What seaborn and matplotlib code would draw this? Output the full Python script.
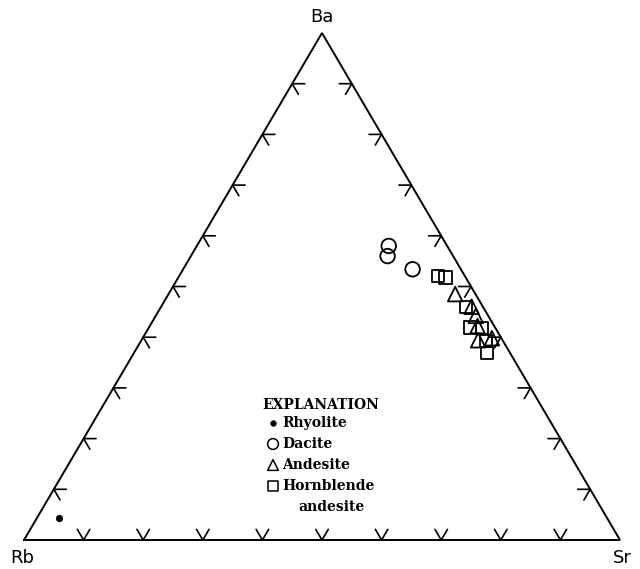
import numpy as np
import pandas as pd
import matplotlib
matplotlib.use("Agg")
import matplotlib.pyplot as plt
import seaborn as sns

# Ternary compositions (fractions of Rb, Sr, Ba) for each rock group
rhyolite_rb = [0.919]
rhyolite_sr = [0.038]
rhyolite_ba = [0.043]

dacite_rb = [0.098, 0.110, 0.081]
dacite_sr = [0.322, 0.330, 0.385]
dacite_ba = [0.580, 0.560, 0.534]

andesite_rb = [0.034, 0.019, 0.021, 0.041, 0.016, 0.028]
andesite_sr = [0.481, 0.521, 0.537, 0.565, 0.586, 0.550]
andesite_ba = [0.485, 0.460, 0.442, 0.394, 0.398, 0.422]

hbl_rb = [0.045, 0.034, 0.029, 0.042, 0.023, 0.028, 0.039]
hbl_sr = [0.434, 0.448, 0.512, 0.539, 0.559, 0.579, 0.592]
hbl_ba = [0.521, 0.518, 0.459, 0.419, 0.418, 0.393, 0.369]

vertex_labels = ["Rb", "Sr", "Ba"]
tick_fractions = [0.1, 0.2, 0.3, 0.4, 0.5, 0.6, 0.7, 0.8, 0.9]

SQ3 = np.sqrt(3) / 2


def to_xy(sr, ba):
    sr = np.asarray(sr, float)
    ba = np.asarray(ba, float)
    return sr + ba / 2, ba * SQ3


frames = []
for name, sr, ba in [("Rhyolite", rhyolite_sr, rhyolite_ba),
                     ("Dacite", dacite_sr, dacite_ba),
                     ("Andesite", andesite_sr, andesite_ba),
                     ("Hornblende andesite", hbl_sr, hbl_ba)]:
    x, y = to_xy(sr, ba)
    frames.append(pd.DataFrame({"rock": name, "x": x, "y": y}))
df = pd.concat(frames, ignore_index=True)

sns.set_theme(style="white")
W, H = 640, 569
fig = plt.figure(figsize=(W / 100, H / 100), dpi=100)
ax = fig.add_axes([0, 0, 1, 1])

# triangle placement on the canvas (pixels)
x0, x1, ybase, yapex = 24, 620, 540, 33
sx = (x1 - x0)
sy = (ybase - yapex) / SQ3
ax.set_xlim(-x0 / sx, (W - x0) / sx)
ax.set_ylim(-(H - ybase) / sy, ybase / sy)
ax.axis("off")

# frame
ax.plot([0, 1, 0.5, 0], [0, 0, SQ3, 0], color="black", lw=1.4,
        solid_joinstyle="miter", zorder=2)

# chevron ticks every 10 percent along each edge
L = 0.021
c60, s60 = 0.5, SQ3
for t in tick_fractions:
    # base
    bx, by = t, 0.0
    ax.plot([bx - L * c60, bx, bx + L * c60], [by + L * s60, by, by + L * s60],
            color="black", lw=1.2, zorder=2)
    # left edge
    lx, ly = t / 2, t * SQ3
    ax.plot([lx + L, lx, lx + L * c60], [ly, ly, ly - L * s60],
            color="black", lw=1.2, zorder=2)
    # right edge
    rx, ry = 1 - t / 2, t * SQ3
    ax.plot([rx - L, rx, rx - L * c60], [ry, ry, ry - L * s60],
            color="black", lw=1.2, zorder=2)

styles = {
    "Rhyolite": dict(marker="o", s=22, color="black", edgecolor="black", linewidth=0.5),
    "Dacite": dict(marker="o", s=110, facecolor="none", edgecolor="black", linewidth=1.3),
    "Andesite": dict(marker="^", s=110, facecolor="none", edgecolor="black", linewidth=1.3),
    "Hornblende andesite": dict(marker="s", s=80, facecolor="none", edgecolor="black", linewidth=1.3),
}
for name, kw in styles.items():
    sub = df[df["rock"] == name]
    sns.scatterplot(data=sub, x="x", y="y", ax=ax, legend=False, zorder=3, **kw)

# vertex labels
vfont = dict(family="DejaVu Sans", fontsize=13, color="black")
fig.text(22 / W, 1 - 558 / H, vertex_labels[0], ha="center", va="center", **vfont)
fig.text(622 / W, 1 - 558 / H, vertex_labels[1], ha="center", va="center", **vfont)
fig.text(322 / W, 1 - 17 / H, vertex_labels[2], ha="center", va="center", **vfont)

# explanation block
lfont = dict(family="DejaVu Serif", fontweight="bold", fontsize=10, color="black")
fig.text(262 / W, 1 - 405 / H, "EXPLANATION", ha="left", va="center", **lfont)
legend_rows = [("Rhyolite", 423), ("Dacite", 444), ("Andesite", 465), ("Hornblende", 486)]
legend_marks = {
    "Rhyolite": dict(marker="o", s=16, c="black", edgecolors="black", linewidths=0.5),
    "Dacite": dict(marker="o", s=60, facecolors="none", edgecolors="black", linewidths=1.1),
    "Andesite": dict(marker="^", s=60, facecolors="none", edgecolors="black", linewidths=1.1),
    "Hornblende": dict(marker="s", s=50, facecolors="none", edgecolors="black", linewidths=1.1),
}
for label, py in legend_rows:
    fig.text(282 / W, 1 - py / H, label, ha="left", va="center", **lfont)
    ax.scatter([273 / W], [1 - py / H], transform=fig.transFigure, zorder=4,
               **legend_marks[label])
fig.text(298 / W, 1 - 507 / H, "andesite", ha="left", va="center", **lfont)

fig.savefig("out.png", dpi=100, facecolor="white")
